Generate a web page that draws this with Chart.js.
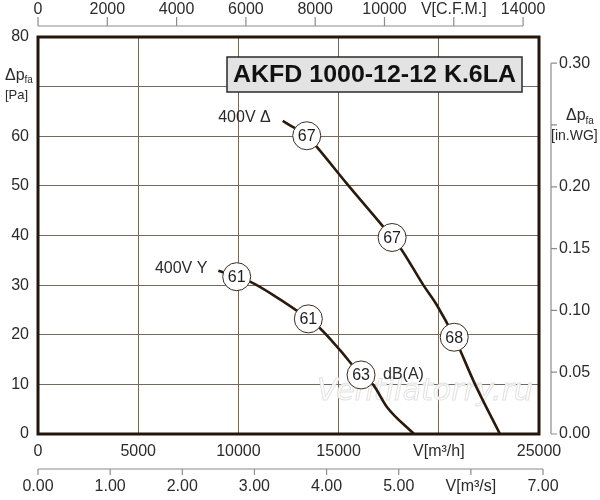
<!DOCTYPE html>
<html><head><meta charset="utf-8">
<script src="https://cdn.jsdelivr.net/npm/chart.js@4.4.1/dist/chart.umd.min.js"></script>
<style>html,body{margin:0;padding:0;background:#fff}#wrap{width:600px;height:500px;position:relative}</style>
</head><body><div id="wrap"><canvas id="c" width="600" height="500"></canvas></div>
<script>
// ---- data ----
const flowTicks = [0, 5000, 10000, 15000, 20000, 25000];      // m3/h
const paTicks = [0, 10, 20, 30, 40, 50, 60, 70, 80];            // Pa
const cfmTicks = [0, 2000, 4000, 6000, 8000, 10000, 12000, 14000];
const m3sTicks = [0, 1, 2, 3, 4, 5, 6, 7];
const inwgTicks = [0, 0.05, 0.10, 0.15, 0.20, 0.25, 0.30];

const deltaFlow = [12210, 12575, 13410, 13900, 15400, 17670, 18100, 19230, 19900, 20770, 21810, 23050];
const deltaPa   = [63.1,  62.2,  60.1,  57.9,  50.5,  39.6,  37.4,  30.0,  26.0,  19.5,  10.0,  0];
const starFlow  = [9000, 9915, 10580, 11740, 13490, 14070, 15070, 16120, 16730, 17400, 18760];
const starPa    = [32.9, 31.7, 30.7,  28.0,  23.2,  21.3,  16.9,  11.9,  9.9,   5.5,   0];

const deltaDbFlow = [13410, 17670, 20770];
const deltaDbPa   = [60.1, 39.6, 19.5];
const deltaDb     = ['67', '67', '68'];
const starDbFlow  = [9915, 13490, 16120];
const starDbPa    = [31.7, 23.2, 11.9];
const starDb      = ['61', '61', '63'];

const titleText = 'AKFD 1000-12-12 K.6LA';
const deltaLabel = '400V \u0394';
const starLabel = '400V Y';
const dbUnit = 'dB(A)';
const watermark = 'Ventilatorry.ru';

const M3H_PER_CFM = 1.729;   // as drawn on the reference top axis
const M3H_PER_M3S = 3600;
const PA_PER_INWG = 249.09;

// ---- styles ----
const FONT = '"Liberation Sans", Arial, sans-serif';
const CURVE = '#2a1a0c';
const GRID = '#75695b';
const FRAME = '#24160a';
const AXIS2 = '#8c8c8c';
const TXT = '#2b2b2b';

const pts = (xs, ys) => xs.map((x, i) => ({x, y: ys[i]}));

const extras = {
  id: 'extras',
  beforeDatasetsDraw(chart) {
    const {ctx, chartArea: a} = chart;
    ctx.save();
    ctx.font = 'italic 31px "DejaVu Sans", sans-serif';
    ctx.strokeStyle = '#e2e2e2';
    ctx.lineWidth = 1;
    ctx.fillStyle = 'rgba(255,255,255,0.9)';
    ctx.textBaseline = 'alphabetic';
    ctx.textAlign = 'left';
    const w = ctx.measureText(watermark).width;
    const sx = 216 / w;
    ctx.translate(a.left + 279, a.top + 363);
    ctx.scale(sx, 1);
    ctx.fillText(watermark, 0, 0);
    ctx.strokeText(watermark, 0, 0);
    ctx.restore();
  },
  afterDraw(chart) {
    const {ctx, chartArea: a, scales} = chart;
    const xs = scales.x, ys = scales.y;
    ctx.save();
    // frame
    ctx.strokeStyle = FRAME;
    ctx.lineWidth = 3;
    ctx.strokeRect(a.left, a.top, a.right - a.left, a.bottom - a.top);

    ctx.font = '16px ' + FONT;
    ctx.fillStyle = TXT;
    ctx.strokeStyle = AXIS2;
    ctx.lineWidth = 1.2;

    // top CFM axis
    const ty = a.top - 11;
    ctx.beginPath();
    ctx.moveTo(xs.getPixelForValue(0), ty);
    ctx.lineTo(xs.getPixelForValue(cfmTicks[cfmTicks.length - 1] * M3H_PER_CFM), ty);
    cfmTicks.forEach(v => {
      const px = xs.getPixelForValue(v * M3H_PER_CFM);
      ctx.moveTo(px, ty); ctx.lineTo(px, ty - 9);
    });
    ctx.stroke();
    ctx.textAlign = 'center'; ctx.textBaseline = 'middle';
    cfmTicks.forEach(v => {
      const px = xs.getPixelForValue(v * M3H_PER_CFM);
      ctx.fillText(v === 12000 ? 'V[C.F.M.]' : String(v), px, 10);
    });

    // bottom m3/s axis
    const by = a.bottom + 35;
    ctx.beginPath();
    ctx.moveTo(xs.getPixelForValue(0), by);
    ctx.lineTo(xs.getPixelForValue(m3sTicks[m3sTicks.length - 1] * M3H_PER_M3S), by);
    m3sTicks.forEach(v => {
      const px = xs.getPixelForValue(v * M3H_PER_M3S);
      ctx.moveTo(px, by); ctx.lineTo(px, by + 6);
    });
    ctx.stroke();
    m3sTicks.forEach(v => {
      const px = xs.getPixelForValue(v * M3H_PER_M3S);
      ctx.fillText(v === 6 ? 'V[m\u00b3/s]' : v.toFixed(2), px, by + 18);
    });

    // right in.WG axis
    const rx = a.right + 12;
    ctx.beginPath();
    ctx.moveTo(rx, ys.getPixelForValue(0));
    ctx.lineTo(rx, ys.getPixelForValue(inwgTicks[inwgTicks.length - 1] * PA_PER_INWG));
    inwgTicks.forEach(v => {
      const py = ys.getPixelForValue(v * PA_PER_INWG);
      ctx.moveTo(rx, py); ctx.lineTo(rx + 6, py);
    });
    ctx.stroke();
    ctx.textAlign = 'left';
    inwgTicks.forEach(v => {
      const py = ys.getPixelForValue(v * PA_PER_INWG);
      if (Math.abs(v - 0.25) < 1e-9) {
        ctx.font = '16px ' + FONT;
        ctx.fillText('\u0394p', rx + 15, py - 9);
        const dw = ctx.measureText('\u0394p').width;
        ctx.font = '10px ' + FONT;
        ctx.fillText('fa', rx + 15 + dw, py - 4);
        ctx.font = '14px ' + FONT;
        ctx.fillText('[in.WG]', rx, py + 11);
        ctx.font = '16px ' + FONT;
      } else {
        ctx.fillText(v.toFixed(2), rx + 8, py);
      }
    });

    // left unit label at 70 Pa
    const ly = ys.getPixelForValue(70);
    ctx.font = '16px ' + FONT;
    ctx.textAlign = 'left';
    ctx.fillText('\u0394p', 5, ly - 11);
    const dw2 = ctx.measureText('\u0394p').width;
    ctx.font = '10px ' + FONT;
    ctx.fillText('fa', 5 + dw2, ly - 6);
    ctx.font = '13px ' + FONT;
    ctx.fillText('[Pa]', 5, ly + 9);

    // title box
    const bx = a.left + 189, bt = a.top + 20, bw = 295, bh = 35;
    ctx.fillStyle = '#e3e3e3';
    ctx.fillRect(bx, bt, bw, bh);
    ctx.strokeStyle = '#2a2a2a';
    ctx.lineWidth = 1.5;
    ctx.strokeRect(bx, bt, bw, bh);
    ctx.fillStyle = '#111';
    ctx.font = 'bold 24px ' + FONT;
    ctx.textAlign = 'center';
    const tw = ctx.measureText(titleText).width;
    ctx.save();
    ctx.translate(bx + bw / 2, bt + bh / 2 + 1);
    ctx.scale(283 / tw, 1);
    ctx.fillText(titleText, 0, 0);
    ctx.restore();

    // dB labels in circles
    ctx.font = '16px ' + FONT;
    ctx.fillStyle = '#1e1e1e';
    ctx.textAlign = 'center';
    [[2, deltaDb], [3, starDb]].forEach(([di, labs]) => {
      chart.getDatasetMeta(di).data.forEach((el, i) => {
        ctx.fillText(labs[i], el.x, el.y + 1);
      });
    });

    // curve labels
    ctx.font = '16px ' + FONT;
    ctx.fillStyle = TXT;
    ctx.textAlign = 'right';
    const d0 = chart.getDatasetMeta(0).data[0];
    ctx.fillText(deltaLabel, d0.x - 12, d0.y - 3);
    const s0 = chart.getDatasetMeta(1).data[0];
    ctx.fillText(starLabel, s0.x - 11, s0.y - 2);
    ctx.textAlign = 'left';
    const sd = chart.getDatasetMeta(3).data;
    const last = sd[sd.length - 1];
    ctx.fillText(dbUnit, last.x + 22, last.y);
    ctx.restore();
  }
};

new Chart(document.getElementById('c'), {
  type: 'scatter',
  data: {
    datasets: [
      {data: pts(deltaFlow, deltaPa), showLine: true, borderColor: CURVE, borderWidth: 2.6,
       pointRadius: 0, cubicInterpolationMode: 'monotone', order: 2},
      {data: pts(starFlow, starPa), showLine: true, borderColor: CURVE, borderWidth: 2.6,
       pointRadius: 0, cubicInterpolationMode: 'monotone', order: 2},
      {data: pts(deltaDbFlow, deltaDbPa), showLine: false, pointRadius: 14,
       pointBackgroundColor: '#fff', pointBorderColor: '#3a2c1e', pointBorderWidth: 1, order: 1},
      {data: pts(starDbFlow, starDbPa), showLine: false, pointRadius: 14,
       pointBackgroundColor: '#fff', pointBorderColor: '#3a2c1e', pointBorderWidth: 1, order: 1}
    ]
  },
  options: {
    responsive: false,
    animation: false,
    devicePixelRatio: 1,
    layout: {padding: {top: 37, right: 61, bottom: 31, left: 0}},
    plugins: {legend: {display: false}, tooltip: {enabled: false}},
    scales: {
      x: {
        type: 'linear', min: 0, max: 25000, position: 'bottom',
        afterBuildTicks: s => { s.ticks = flowTicks.map(v => ({value: v})); },
        afterFit: s => { s.height = 35; },
        ticks: {
          font: {size: 16, family: FONT}, color: TXT, padding: 8, maxRotation: 0,
          callback: v => v === 20000 ? 'V[m\u00b3/h]' : String(v)
        },
        grid: {color: GRID, lineWidth: 1, drawTicks: false},
        border: {display: false}
      },
      y: {
        type: 'linear', min: 0, max: 80,
        afterBuildTicks: s => { s.ticks = paTicks.map(v => ({value: v})); },
        afterFit: s => { s.width = 38; },
        ticks: {
          font: {size: 16, family: FONT}, color: TXT, padding: 9,
          callback: v => v === 70 ? '' : String(v)
        },
        grid: {color: GRID, lineWidth: 1, drawTicks: false},
        border: {display: false}
      }
    }
  },
  plugins: [extras]
});
</script>
</body></html>
